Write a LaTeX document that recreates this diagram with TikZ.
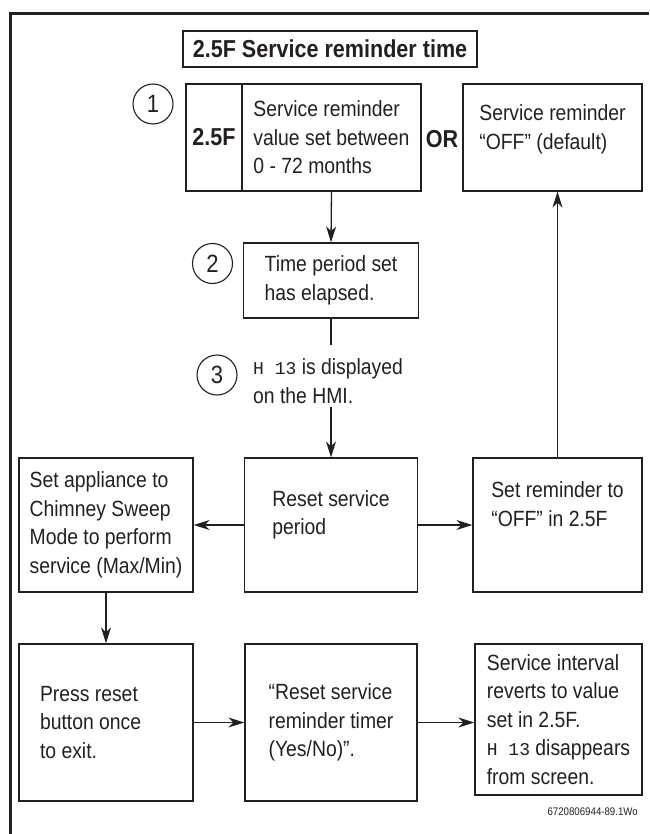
\documentclass[tikz,border=0pt]{standalone}
\usepackage{fontspec}
\setmainfont{Liberation Sans}[FakeStretch=0.88]
\setmonofont{Liberation Mono}
\usetikzlibrary{arrows.meta,positioning}
\definecolor{inkline}{HTML}{231F20}
\tikzset{>={Stealth[length=16pt,width=10pt,inset=5pt]}}
\tikzset{
  stepbox/.style={draw=inkline, line width=1.3pt, align=left, inner sep=0pt, text=inkline},
  numcirc/.style={circle, draw=inkline, line width=1.1pt, minimum size=40pt,
    inner sep=0pt, text=inkline, font=\fontsize{25}{25}\selectfont},
  flow/.style={->, draw=inkline, line width=1.3pt},
}
% seven segment code shown on the display
\newcommand{\hmicode}{{\fontsize{18}{18}\selectfont\ttfamily H 13}}

\begin{document}
\begin{tikzpicture}[x=1pt, y=-1pt,
    every node/.style={font=\fontsize{22}{28.5}\selectfont}]
  \useasboundingbox (0,0) rectangle (649,834);
  \draw[line width=3pt, inkline] (10.5,834) -- (10.5,13.5) -- (649,13.5);

  \node[stepbox, minimum width=294pt, minimum height=36pt,
    font=\fontsize{24.5}{26}\selectfont\bfseries] (title) at (330,49) {2.5F Service reminder time};

  % step 1
  \node[numcirc] (one) at (153,104) {1};
  \node[stepbox, minimum width=56pt, minimum height=107pt,
    font=\fontsize{24.5}{26}\selectfont\bfseries] (code) at (214,137.5) {2.5F};
  \node[stepbox, minimum width=179pt, minimum height=107pt] (value) at (331.5,137.5)
    {Service reminder\\value set between\\0 - 72 months};
  \node[font=\fontsize{24.5}{26}\selectfont\bfseries, text=inkline] (or) at (442,139) {OR};
  \node[stepbox, minimum width=179pt, minimum height=107pt] (off) at (552.5,137.5)
    {Service reminder\\“OFF” (default)\\[-16pt]\strut};

  % step 2
  \node[numcirc] (two) at (212.5,263.5) {2};
  \node[stepbox, minimum width=175pt, minimum height=75pt] (elapsed) at (331,280.5)
    {Time period set\\has elapsed.};

  % step 3
  \node[numcirc] (three) at (217,375) {3};
  \node[anchor=west, align=left, inner sep=0pt, text=inkline] (hmi) at (253,381)
    {\hmicode{} is displayed\\on the HMI.};
  \coordinate (gapa) at (331,345);
  \coordinate (gapb) at (331,407);

  % middle row
  \node[stepbox, minimum width=173pt, minimum height=134pt] (reset) at (331,525)
    {Reset service\\period\\[-12pt]\strut};
  \node[stepbox, minimum width=174pt, minimum height=134pt] (sweep) at (106,525)
    {Set appliance to\\Chimney Sweep\\Mode to perform\\service (Max/Min)};
  \node[stepbox, minimum width=169pt, minimum height=134pt] (setoff) at (557.5,525)
    {Set reminder to\\“OFF” in 2.5F\\[5pt]\strut};

  % bottom row
  \node[stepbox, minimum width=174pt, minimum height=157pt, text width=132pt,
    align=flush left] (press) at (106,722.5)
    {Press reset\\button once\\to exit.};
  \node[stepbox, minimum width=172pt, minimum height=157pt] (timer) at (331,722.5)
    {“Reset service\\reminder timer\\(Yes/No)”.};
  \node[stepbox, minimum width=167pt, minimum height=151pt] (revert) at (558.5,719.5)
    {Service interval\\reverts to value\\set in 2.5F.\\\hmicode{} disappears\\from screen.};

  \node[anchor=east, inner sep=0pt, text=inkline, font=\fontsize{11}{12}\selectfont] (ref) at (638,812)
    {6720806944-89.1Wo};

  \draw[flow] (value.south) -- (elapsed.north);
  \draw[flow, -] (elapsed.south) -- (gapa);
  \draw[flow] (gapb) -- (reset.north);
  \draw[flow] (reset.west) -- (sweep.east);
  \draw[flow] (reset.east) -- (setoff.west);
  \draw[flow] (setoff.north) -- (setoff.north |- off.south);
  \draw[flow] (sweep.south) -- (press.north);
  \draw[flow] (press.east) -- (timer.west);
  \draw[flow] (timer.east) -- (timer.east -| revert.west);
\end{tikzpicture}
\end{document}
